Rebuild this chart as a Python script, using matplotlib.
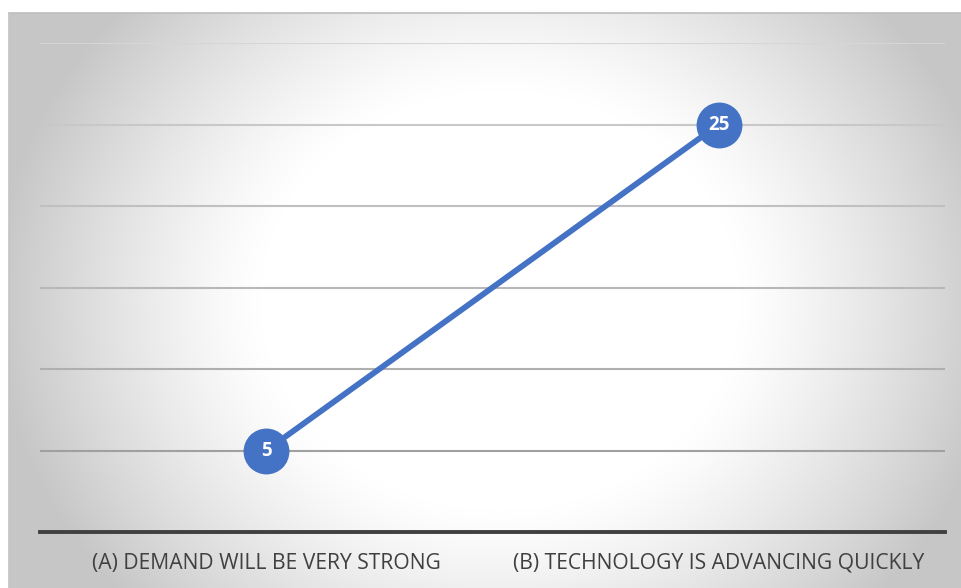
import numpy as np
import matplotlib.pyplot as plt

categories = ['(A) DEMAND WILL BE VERY STRONG', '(B) TECHNOLOGY IS ADVANCING QUICKLY']
values = [5, 25]
grid_levels = [5, 10, 15, 20, 25, 30]

W, H, DPI = 961, 588, 100
fig = plt.figure(figsize=(W / DPI, H / DPI), dpi=DPI)
fig.patch.set_facecolor('white')

# radial grey-to-white backdrop behind the plot
bx0, by0, bx1, by1 = 9, 13, 961, 588
bg = fig.add_axes([bx0 / W, 1 - by1 / H, (bx1 - bx0) / W, (by1 - by0) / H])
gx, gy = np.meshgrid(np.arange(bx0, bx1), np.arange(by0, by1))
cx, cy = 500, 300
r = np.sqrt(((gx - cx) / 480.0) ** 2 + ((gy - cy) / 420.0) ** 2)
drop = 0.22 * np.clip((r - 0.5) / 0.55, 0, 1) ** 1.2
shade = 1.0 - drop
bg.imshow(np.dstack([shade] * 3), aspect='auto', interpolation='bilinear')
bg.set_axis_off()
fig.add_artist(plt.Line2D([bx0 / W, 1], [1 - by0 / H, 1 - by0 / H], color='#bdbdbd', lw=1.2))
fig.add_artist(plt.Line2D([bx0 / W, bx0 / W], [0, 1 - by0 / H], color='#c4c4c4', lw=1.2))

# plot area
left, right, top, bottom = 40, 945, 43, 532
ax = fig.add_axes([left / W, 1 - bottom / H, (right - left) / W, (bottom - top) / H])
ax.set_facecolor('none')
ax.set_xlim(-0.5, 1.5)
ax.set_ylim(0, 30)
for s in ax.spines.values():
    s.set_visible(False)
ax.set_xticks([])
ax.set_yticks([])

grid_colors = ['#a0a0a0', '#afafaf', '#b8b8b8', '#c0c0c0', '#c8c8c8', '#d6d6d6']
for lvl, c in zip(grid_levels, grid_colors):
    ax.axhline(lvl, color=c, lw=1.5, zorder=1)
ax.axhline(0, color='#404040', lw=2.8, zorder=2, clip_on=False)

x = np.arange(len(values))
ax.plot(x, values, color='#4472C4', lw=4.2, marker='o', markersize=32,
        markerfacecolor='#4472C4', markeredgecolor='#4472C4', zorder=3)
for xi, v in zip(x, values):
    ax.text(xi, v, str(v), color='white', fontsize=13.5, fontweight='bold',
            family='Open Sans', ha='center', va='center', zorder=4)

label_y = -31 / (bottom - top)
for xi, lab in zip(x, categories):
    ax.text(xi, label_y, lab, transform=ax.get_xaxis_transform(), color='#404040',
            fontsize=15.2, family='Open Sans', ha='center', va='center')

fig.savefig('out.png', dpi=DPI)
